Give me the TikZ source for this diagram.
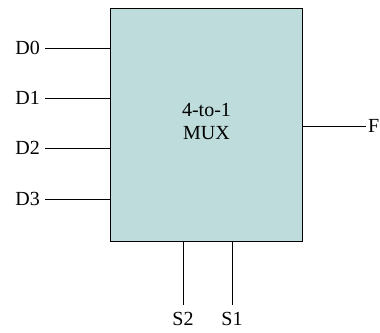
\documentclass[tikz,border=0pt]{standalone}
\usepackage{fontspec}
\setmainfont{Liberation Serif}
\definecolor{muxfill}{RGB}{189,220,219}
\tikzset{
  muxbox/.style={draw, line width=1pt, fill=muxfill, minimum width=192pt, minimum height=233.5pt, inner sep=0pt},
  wire/.style={line width=0.8pt},
  inlabel/.style={anchor=east, inner xsep=5pt},
  sellabel/.style={anchor=north, inner sep=1pt},
}
\begin{document}
\begin{tikzpicture}[x=1pt, y=1pt, font=\fontsize{20}{23}\selectfont]
            \useasboundingbox (0,0) rectangle (380,332);

            % multiplexer
            \node[muxbox] (mux) at (206,206.75) {};
            \node[align=center] (muxtext) at (206.5,210.5) {4-to-1\\MUX};

            % data inputs
            \node[inlabel] (d0) at (45,284) {D0};
            \node[inlabel] (d1) at (45,234) {D1};
            \node[inlabel] (d2) at (45,184) {D2};
            \node[inlabel] (d3) at (45,133) {D3};
            \draw[wire] (d0) -- (d0 -| mux.west);
            \draw[wire] (d1) -- (d1 -| mux.west);
            \draw[wire] (d2) -- (d2 -| mux.west);
            \draw[wire] (d3) -- (d3 -| mux.west);

            % output
            \node[anchor=west, inner xsep=2pt] (f) at (366,206) {F};
            \draw[wire] (mux.east |- f) -- (f);

            % select lines
            \node[sellabel] (s2) at (183,21) {S2};
            \node[sellabel] (s1) at (232,21) {S1};
            \draw[wire, shorten >=6pt] (mux.south -| s2) -- (s2.north);
            \draw[wire, shorten >=6pt] (mux.south -| s1) -- (s1.north);

\end{tikzpicture}
\end{document}
